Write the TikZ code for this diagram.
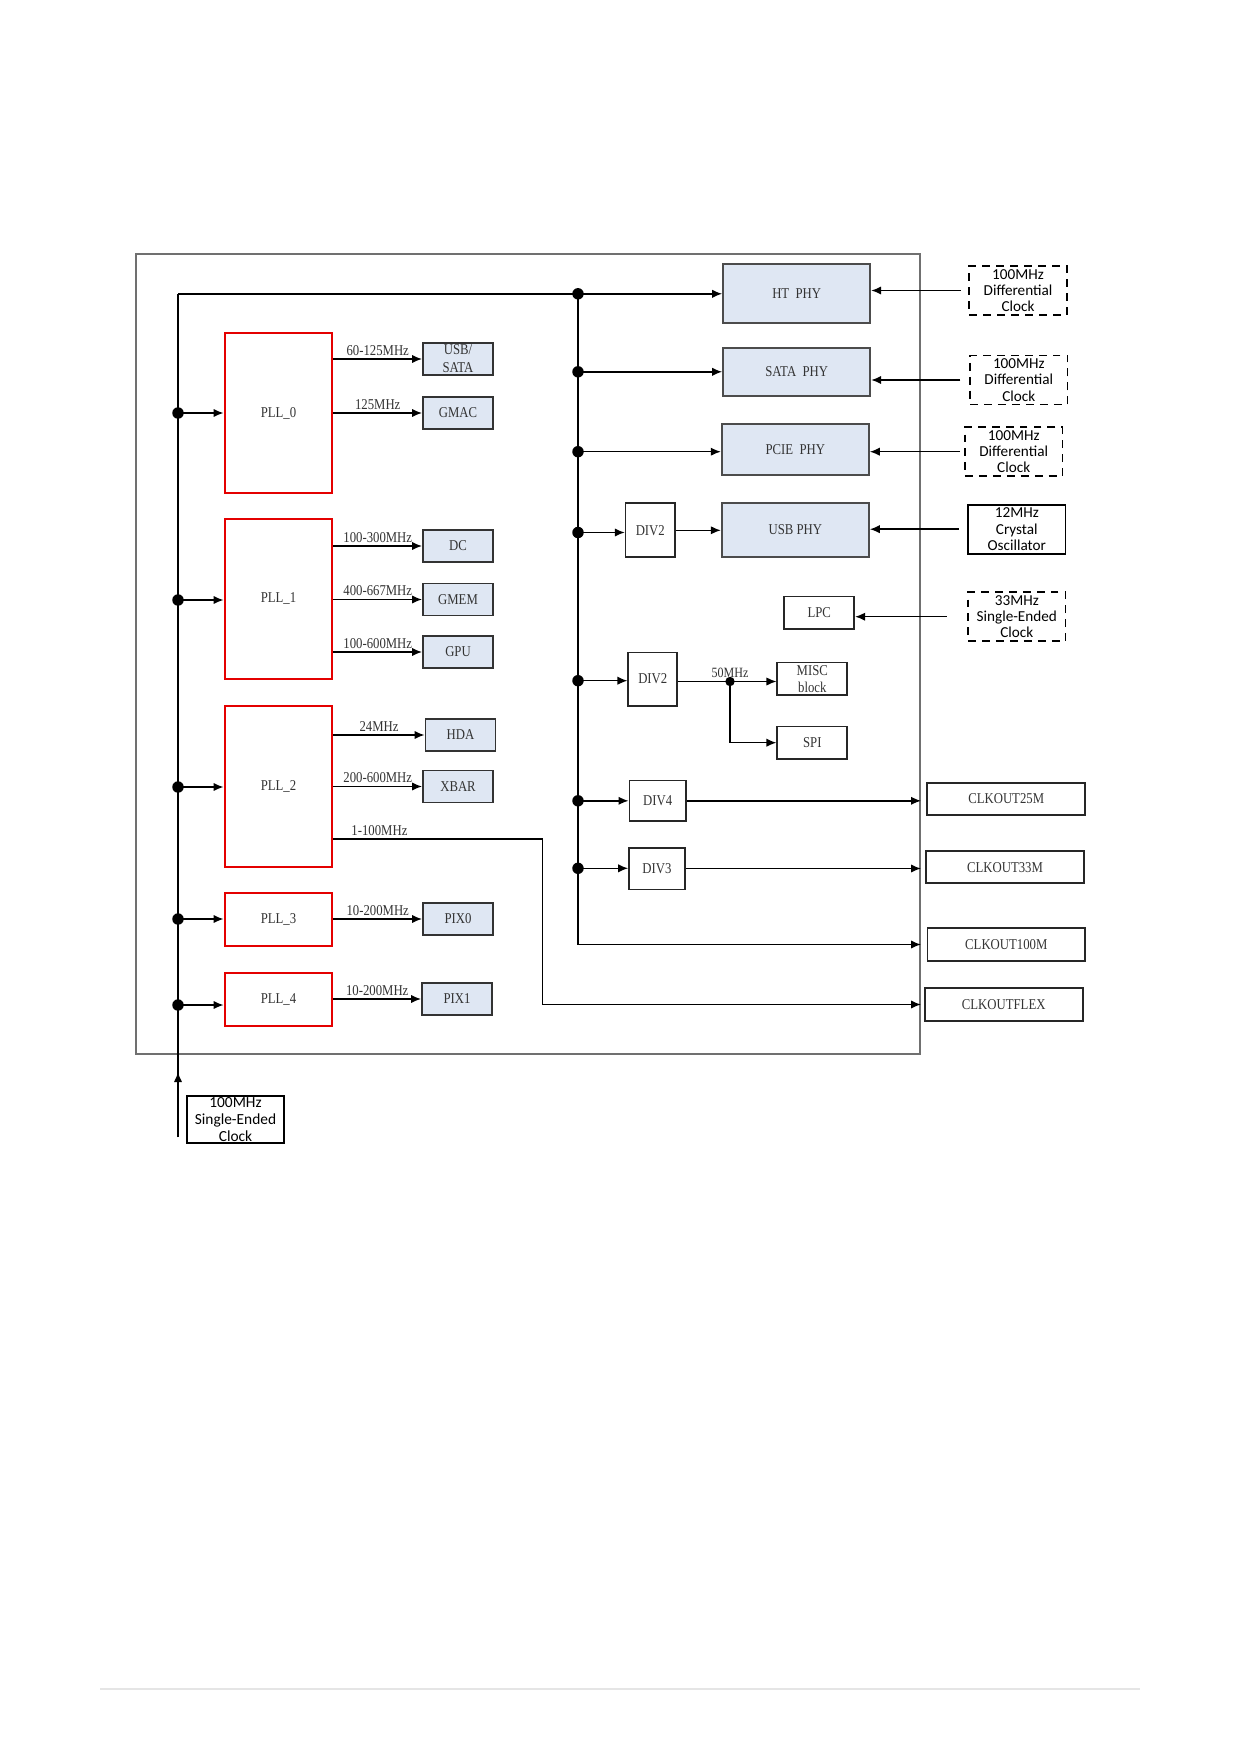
\documentclass[tikz,border=0pt]{standalone}
\usepackage{fontspec}
\setmainfont{Liberation Serif}[FakeStretch=0.85]
\newfontfamily\clkfont{Carlito}
\usepackage{tikz}
\usetikzlibrary{arrows.meta,calc}

\definecolor{phyblue}{RGB}{223,231,243}
\definecolor{framegray}{RGB}{112,112,112}
\definecolor{pllred}{RGB}{228,0,0}

\begin{document}
\begin{tikzpicture}[x=0.48pt, y=-0.48pt, >={Latex[length=4.8pt,width=4pt]},
  every node/.style={font=\fontsize{7.2}{8.4}\selectfont, text=black!80},
  pll/.style={draw=pllred, line width=1.3pt, minimum width=51.4pt, inner sep=0pt},
  blk/.style={draw=black!80, line width=0.9pt, fill=phyblue, minimum width=33.6pt, minimum height=15.4pt, inner sep=0pt, align=center},
  phy/.style={draw=black!70, line width=1pt, fill=phyblue, minimum width=70.5pt, inner sep=0pt},
  divbox/.style={draw=black!85, line width=0.8pt, inner sep=0pt, align=center},
  clkout/.style={draw=black!85, line width=0.9pt, minimum width=75.7pt, minimum height=15.5pt, inner sep=0pt},
  extclk/.style={draw=black, line width=0.8pt, dash pattern=on 3.8pt off 2.9pt, minimum width=46.8pt, minimum height=23.5pt, inner sep=0pt, align=center, text=black, font=\clkfont\fontsize{7.3}{7.8}\selectfont},
  jdot/.style={circle, fill=black, inner sep=0pt, minimum size=5.5pt},
  freq/.style={above, inner sep=1.5pt},
  wire/.style={line width=0.7pt}]
\useasboundingbox (0,0) rectangle (1239,1752);

% chip outline
\node[draw=framegray, line width=1pt, minimum width=376.3pt, minimum height=384pt, inner sep=0pt] (chip) at (528,654) {};

% PLLs
\node[pll, minimum height=76.8pt] (pll0) at (278.5,413) {PLL\_0};
\node[pll, minimum height=76.8pt] (pll1) at (278.5,599) {PLL\_1};
\node[pll, minimum height=77.3pt] (pll2) at (278.5,786.5) {PLL\_2};
\node[pll, minimum height=25.4pt] (pll3) at (278.5,919.5) {PLL\_3};
\node[pll, minimum height=25.4pt] (pll4) at (278.5,999.5) {PLL\_4};

% PLL loads
\node[blk, font=\fontsize{7.2}{8.6}\selectfont] (usbsata) at (458,359) {USB/\\SATA};
\node[blk] (gmac) at (458,413) {GMAC};
\node[blk] (dc) at (458,546) {DC};
\node[blk] (gmem) at (458,599.5) {GMEM};
\node[blk] (gpu) at (458,652) {GPU};
\node[blk] (hda) at (460.5,735) {HDA};
\node[blk] (xbar) at (458,786.5) {XBAR};
\node[blk] (pix0) at (458,919) {PIX0};
\node[blk] (pix1) at (457,999) {PIX1};

% PHYs
\node[phy, minimum height=28.3pt] (htphy) at (796.7,293.8) {HT\ \ PHY};
\node[phy, minimum height=23.2pt] (sataphy) at (796.7,371.8) {SATA\ \ PHY};
\node[phy, minimum height=24.5pt] (pciephy) at (795.3,449.5) {PCIE\ \ PHY};
\node[phy, minimum height=25.9pt] (usbphy) at (795.3,529.7) {USB\ PHY};

% dividers and small blocks
\node[divbox, minimum width=23.7pt, minimum height=25.9pt] (div2a) at (650.3,530.3) {DIV2};
\node[divbox, minimum width=23.5pt, minimum height=25.6pt] (div2b) at (652.8,679) {DIV2};
\node[divbox, minimum width=27.2pt, minimum height=19.4pt] (div4) at (657.7,800.8) {DIV4};
\node[divbox, minimum width=26.9pt, minimum height=20pt] (div3) at (657,868.5) {DIV3};
\node[divbox, minimum width=33.6pt, minimum height=15.5pt] (lpc) at (819.3,612.8) {LPC};
\node[divbox, minimum width=33.6pt, minimum height=15.5pt, font=\fontsize{7.2}{8.2}\selectfont] (misc) at (812.3,678.8) {MISC\\block};
\node[divbox, minimum width=33.6pt, minimum height=15.4pt] (spi) at (812.3,742.7) {SPI};

% clock outputs
\node[clkout] (clk25) at (1006.2,798.8) {CLKOUT25M};
\node[clkout] (clk33) at (1005,867.2) {CLKOUT33M};
\node[clkout] (clk100) at (1006.3,944.5) {CLKOUT100M};
\node[clkout] (clkflex) at (1003.7,1004.5) {CLKOUTFLEX};

% external clocks
\node[extclk] (ext0) at (1018,290.5) {100MHz\\Differential\\Clock};
\node[extclk] (ext1) at (1018.8,380) {100MHz\\Differential\\Clock};
\node[extclk] (ext2) at (1013.7,451.7) {100MHz\\Differential\\Clock};
\node[extclk, solid] (ext3) at (1016.8,529.2) {12MHz\\Crystal\\Oscillator};
\node[extclk] (ext4) at (1016.8,616.7) {33MHz\\Single-Ended\\Clock};
\node[extclk, solid, minimum width=46.6pt, minimum height=22.6pt, font=\clkfont\fontsize{7.4}{8}\selectfont] (src) at (235.5,1119.5) {100MHz\\Single-Ended\\Clock};

% clock trees
\coordinate (in) at (178,1137);
\coordinate (inarr) at (178,1072);
\coordinate (top) at (178,293.8);
\coordinate (flexturn) at (542.7,839);
\draw[wire] (in) -- (top);
\draw[wire,->] (in) -- (inarr);
\draw[wire,->] (top) -- (htphy.west);

\node[jdot] (jl0) at (178,413) {};
\node[jdot] (jl1) at (178,600) {};
\node[jdot] (jl2) at (178,787) {};
\node[jdot] (jl3) at (178,919) {};
\node[jdot] (jl4) at (178,1005) {};
\draw[wire,->] (jl0.center) -- (jl0 -| pll0.west);
\draw[wire,->] (jl1.center) -- (jl1 -| pll1.west);
\draw[wire,->] (jl2.center) -- (jl2 -| pll2.west);
\draw[wire,->] (jl3.center) -- (jl3 -| pll3.west);
\draw[wire,->] (jl4.center) -- (jl4 -| pll4.west);

\draw[wire,->] (pll0.east |- usbsata) -- node[freq] {60-125MHz} (usbsata.west);
\draw[wire,->] (pll0.east |- gmac) -- node[freq] {125MHz} (gmac.west);
\draw[wire,->] (pll1.east |- dc) -- node[freq] {100-300MHz} (dc.west);
\draw[wire,->] (pll1.east |- gmem) -- node[freq] {400-667MHz} (gmem.west);
\draw[wire,->] (pll1.east |- gpu) -- node[freq] {100-600MHz} (gpu.west);
\draw[wire,->] (pll2.east |- hda) -- node[freq] {24MHz} (hda.west);
\draw[wire,->] (pll2.east |- xbar) -- node[freq] {200-600MHz} (xbar.west);
\draw[wire,->] (pll3.east |- pix0) -- node[freq] {10-200MHz} (pix0.west);
\draw[wire,->] (pll4.east |- pix1) -- node[freq] {10-200MHz} (pix1.west);
\draw[wire,->] (pll2.east |- flexturn) -- node[freq, pos=0.22] {1-100MHz} (flexturn) |- (clkflex.west -| chip.east);

\node[jdot] (jr0) at (578,293.8) {};
\node[jdot] (jr1) at (578,371.8) {};
\node[jdot] (jr2) at (578,451.7) {};
\node[jdot] (jr3) at (578,532.5) {};
\node[jdot] (jr4) at (578,680.7) {};
\node[jdot] (jr5) at (578,800.8) {};
\node[jdot] (jr6) at (578,868.3) {};
\draw[wire,->] (jr0.center) |- (clk100.west -| chip.east);
\draw[wire,->] (jr1.center) -- (sataphy.west);
\draw[wire,->] (jr2.center) -- (jr2 -| pciephy.west);
\draw[wire,->] (jr3.center) -- (jr3 -| div2a.west);
\draw[wire,->] (jr4.center) -- (jr4 -| div2b.west);
\draw[wire,->] (jr5.center) -- (jr5 -| div4.west);
\draw[wire,->] (jr6.center) -- (jr6 -| div3.west);

\draw[wire,->] (div2a.east) -- (div2a.east -| usbphy.west);
\node[jdot, minimum size=4.5pt] (j50) at (730,681.5) {};
\node[freq, font=\fontsize{6.8}{8}\selectfont] (f50) at (j50.center) {50MHz};
\draw[wire] (div2b.east |- j50) -- (j50.center);
\draw[wire,->] (j50.center) -- (j50 -| misc.west);
\draw[wire,->] (j50.center) |- (spi.west);
\draw[wire,->] (div4.east) -- (div4.east -| chip.east);
\draw[wire,->] (div3.east) -- (div3.east -| chip.east);

% external inputs
\draw[wire,->, shorten <=3.6pt] (ext0.west) -- (ext0.west -| htphy.east);
\draw[wire,->, shorten <=4.3pt] (ext1.west) -- (ext1.west -| sataphy.east);
\draw[wire,->, shorten <=1.9pt] (ext2.west) -- (ext2.west -| pciephy.east);
\draw[wire,->, shorten <=4pt] (ext3.west) -- (ext3.west -| usbphy.east);
\draw[wire,->, shorten <=9.8pt] (ext4.west) -- (ext4.west -| lpc.east);

% page rule
\draw[black!10, line width=0.6pt] (100,1689) -- (1140,1689);
\end{tikzpicture}
\end{document}
